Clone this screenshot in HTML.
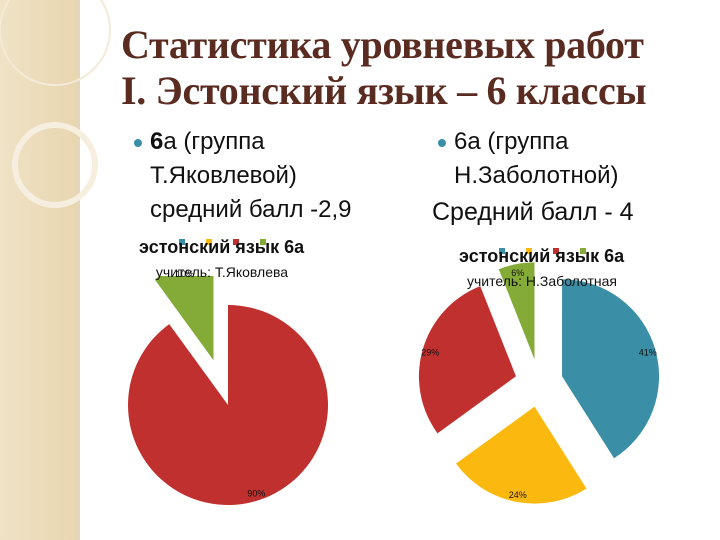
<!DOCTYPE html>
<html><head><meta charset="utf-8"><style>
body{margin:0;width:720px;height:540px;overflow:hidden;background:#fff;font-family:"Liberation Sans",sans-serif}
#root{position:relative;width:720px;height:540px}
.t{position:absolute;white-space:nowrap}
</style></head><body><div id="root">
<svg width="720" height="540" style="position:absolute;left:0;top:0">
<defs><linearGradient id="g" x1="0" x2="1"><stop offset="0" stop-color="#efe2c6"/><stop offset="1" stop-color="#e8d6b0"/></linearGradient></defs>
<rect x="0" y="0" width="78" height="540" fill="url(#g)"/>
<line x1="79" y1="0" x2="79" y2="540" stroke="#d8c9a8" stroke-width="1.5"/>
<circle cx="55" cy="165" r="40" fill="none" stroke="#f6efe0" stroke-width="6"/>
<circle cx="55" cy="30" r="55" fill="none" stroke="#f4ead6" stroke-width="2"/>
</svg>
<div class="t" style="left:121px;top:22px;font:bold 40px 'Liberation Serif',serif;color:#5a2b20;line-height:46px;letter-spacing:-0.3px">Статистика уровневых работ<br>I. Эстонский язык – 6 классы</div>
<div class="t" style="left:150px;top:125px;font-size:24px;line-height:34px;color:#111"><span style="position:absolute;left:-16px;top:14px;width:8px;height:8px;border-radius:50%;background:#3a8ea6"></span><b>6</b>а (группа<br>Т.Яковлевой)<br>средний балл -2,9</div>
<div class="t" style="left:454px;top:125px;font-size:24px;line-height:34px;color:#111"><span style="position:absolute;left:-16px;top:14px;width:8px;height:8px;border-radius:50%;background:#3a8ea6"></span>6а (группа<br>Н.Заболотной)</div>
<div class="t" style="left:432px;top:198px;font-size:25px;color:#111">Средний балл - 4</div>
<svg id="charts" width="720" height="540" style="position:absolute;left:0;top:0">
<defs><clipPath id="clipL"><rect x="100" y="276" width="300" height="260"/></clipPath></defs>
</svg>
</div>
<script>
const leftCats=["5","4","3","2"];
const leftVals=[0,0,90,10];
const leftLabels=["","","90%","10%"];
const rightCats=["5","4","3","2"];
const rightVals=[41,24,29,6];
const rightLabels=["41%","24%","29%","6%"];
const colors=["#3a8ea6","#fbb80f","#c0302f","#84aa37"];
const NS="http://www.w3.org/2000/svg";
const svg=document.getElementById("charts");
function mk(tag,attrs,parent){const e=document.createElementNS(NS,tag);for(const k in attrs)e.setAttribute(k,attrs[k]);(parent||svg).appendChild(e);return e;}
function pie(name,vals,labels,cx,cy,r,explode,title,sub,tx,ty,clip){
  const g=mk("g",{});
  
  
  const sg=mk("g",clip?{"clip-path":"url(#"+clip+")"}:{},g);
  const tot=vals.reduce((a,b)=>a+b,0);let a0=0;
  vals.forEach((v,i)=>{
    if(v<=0)return;
    const a1=a0+v/tot*2*Math.PI, mid=(a0+a1)/2;
    const d=explode[i];
    const ox=cx+d*Math.sin(mid), oy=cy-d*Math.cos(mid);
    const x0=ox+r*Math.sin(a0),y0=oy-r*Math.cos(a0),x1=ox+r*Math.sin(a1),y1=oy-r*Math.cos(a1);
    const p=mk("path",{d:`M${ox},${oy}L${x0},${y0}A${r},${r} 0 ${a1-a0>Math.PI?1:0} 1 ${x1},${y1}Z`,fill:colors[i]},sg);
    
    
    const lr=r*0.92;
    const t=mk("text",{x:ox+lr*Math.sin(mid),y:oy-lr*Math.cos(mid)+4,"font-size":"9","text-anchor":"middle",fill:"#111","font-family":"Liberation Sans, sans-serif"},g);
    t.textContent=labels[i];
    
    
    a0=a1;
  });
  colors.forEach((c,i)=>{const s=mk("rect",{x:tx+40+i*27,y:ty-14,width:6,height:6,fill:c},g);
    
    });
  const t=mk("text",{x:tx,y:ty,"font-size":"18","font-weight":"bold",fill:"#111","font-family":"Liberation Sans, sans-serif"},g);
  t.textContent=title;
  
  
  const s=mk("text",{x:tx+83,y:ty+24,"font-size":"14","text-anchor":"middle",fill:"#111","font-family":"Liberation Sans, sans-serif"},g);
  s.textContent=sub;
  
  
}
pie("left-pie",leftVals,leftLabels,228,405,100,[0,0,0,47],"эстонский язык 6а","учитель: Т.Яковлева",139,253,"clipL");
pie("right-pie",rightVals,rightLabels,539,383,97,[24,24,24,24],"эстонский язык 6а","учитель: Н.Заболотная",459,262,null);
</script>
</body></html>
